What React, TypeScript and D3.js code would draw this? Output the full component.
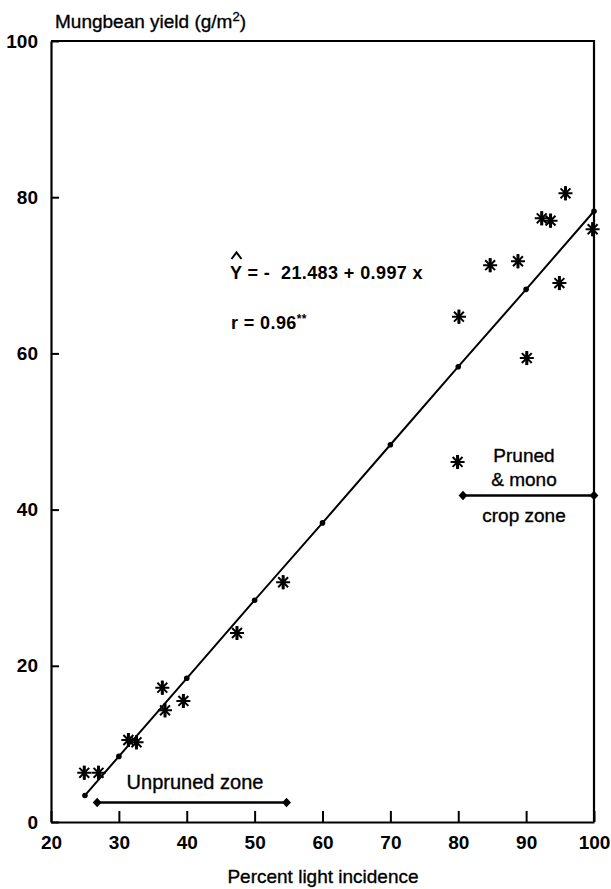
import React, { useEffect, useRef } from 'react';
import { select, scaleLinear, axisBottom, axisLeft, line, path, symbol, symbolDiamond } from 'd3';

// data
const lightIncidence = [24.9, 27.0, 31.4, 32.6, 36.4, 36.8, 39.5, 47.4, 54.2, 79.9, 80.1, 84.7, 88.8, 90.1, 94.9, 92.3, 93.6, 95.8, 99.8];
const mungbeanYield = [6.3, 6.3, 10.5, 10.2, 17.2, 14.3, 15.5, 24.2, 30.7, 46.1, 64.7, 71.3, 71.8, 59.4, 69.0, 77.3, 77.0, 80.5, 75.9];
const fitX = [25, 30, 40, 50, 60, 70, 80, 90, 100];
const fitY = [3.4, 8.4, 18.4, 28.4, 38.3, 48.3, 58.3, 68.2, 78.2];
const xTicks = [20, 30, 40, 50, 60, 70, 80, 90, 100];
const yTicks = [0, 20, 40, 60, 80, 100];
const unprunedZone = [26.8, 54.7];
const prunedZone = [80.7, 100];

const W = 611;
const H = 889;
const FONT = '"Liberation Sans", Arial, Helvetica, sans-serif';

// 8-armed asterisk, vertical arm a bit heavier like the scan
function asterisk(r: number) {
  const p = path();
  for (let k = 0; k < 4; k++) {
    const a = (k * Math.PI) / 4;
    p.moveTo(-r * Math.sin(a), -r * Math.cos(a));
    p.lineTo(r * Math.sin(a), r * Math.cos(a));
  }
  return p.toString();
}

export default function App() {
  const svgRef = useRef<SVGSVGElement>(null);

  useEffect(() => {
    const svg = select(svgRef.current);
    const x = scaleLinear().domain([20, 100]).range([51, 594]);
    const y = scaleLinear().domain([0, 100]).range([822, 41]);

    const styleTicks = (g: any) => {
      g.select('.domain').attr('stroke-width', 2.2);
      g.selectAll('line').attr('stroke-width', 2);
      g.selectAll('text')
        .attr('font-size', 19)
        .attr('font-weight', 'bold')
        .attr('font-family', FONT)
        .attr('fill', '#000');
    };

    const xAxis = axisBottom(x).tickValues(xTicks).tickSizeInner(-11).tickSizeOuter(0).tickPadding(14);
    svg.select<SVGGElement>('.x-axis')
      .attr('transform', `translate(0,${y(0)})`)
      .call(xAxis)
      .call(styleTicks);

    const yAxis = axisLeft(y).tickValues(yTicks).tickSizeInner(-8).tickSizeOuter(0).tickPadding(13);
    svg.select<SVGGElement>('.y-axis')
      .attr('transform', `translate(${x(20)},0)`)
      .call(yAxis)
      .call(styleTicks);

    // frame: top + right
    svg.select('.frame')
      .selectAll('path')
      .data([0])
      .join('path')
      .attr('d', `M${x(20)},${y(100)}H${x(100)}V${y(0)}`)
      .attr('fill', 'none')
      .attr('stroke', '#000')
      .attr('stroke-width', 2.2);

    // regression line with small dots
    const fit = fitX.map((v, i) => [v, fitY[i]] as [number, number]);
    const fitLine = line<[number, number]>().x(d => x(d[0])).y(d => y(d[1]));
    svg.select('.fit')
      .selectAll('path')
      .data([fit])
      .join('path')
      .attr('d', fitLine)
      .attr('fill', 'none')
      .attr('stroke', '#000')
      .attr('stroke-width', 2);
    svg.select('.fit')
      .selectAll('circle')
      .data(fit)
      .join('circle')
      .attr('cx', d => x(d[0]))
      .attr('cy', d => y(d[1]))
      .attr('r', 2.8)
      .attr('fill', '#000');

    // observed points
    const pts = lightIncidence.map((v, i) => [v, mungbeanYield[i]]);
    const pg = svg.select('.points');
    pg.selectAll('path.star')
      .data(pts)
      .join('path')
      .attr('class', 'star')
      .attr('transform', d => `translate(${x(d[0])},${y(d[1])})`)
      .attr('d', asterisk(7))
      .attr('fill', 'none')
      .attr('stroke', '#000')
      .attr('stroke-width', 2);
    pg.selectAll('line.stem')
      .data(pts)
      .join('line')
      .attr('class', 'stem')
      .attr('x1', d => x(d[0]))
      .attr('x2', d => x(d[0]))
      .attr('y1', d => y(d[1]) - 7)
      .attr('y2', d => y(d[1]) + 7)
      .attr('stroke', '#000')
      .attr('stroke-width', 3);

    // zone arrows
    const diamond = symbol(symbolDiamond, 40)();
    const zones = [
      { range: unprunedZone, yv: 2.5 },
      { range: prunedZone, yv: 41.8 },
    ];
    const zg = svg.select('.zones');
    zg.selectAll('line')
      .data(zones)
      .join('line')
      .attr('x1', d => x(d.range[0]))
      .attr('x2', d => x(d.range[1]))
      .attr('y1', d => y(d.yv))
      .attr('y2', d => y(d.yv))
      .attr('stroke', '#000')
      .attr('stroke-width', 2.4);
    zg.selectAll('path')
      .data(zones.flatMap(d => d.range.map(v => [v, d.yv])))
      .join('path')
      .attr('transform', d => `translate(${x(d[0])},${y(d[1])}) scale(1.3,0.8)`)
      .attr('d', diamond)
      .attr('fill', '#000');
  }, []);

  const txt = { fontFamily: FONT, fill: '#000', stroke: '#000', strokeWidth: 0.35 } as const;
  const bold = { fontFamily: FONT, fill: '#000', fontWeight: 'bold' } as const;

  return (
    <div style={{ position: 'absolute', left: 0, top: 0 }}>
      <svg ref={svgRef} width={W} height={H} style={{ display: 'block', background: '#fff' }}>
        <g className="frame" />
        <g className="x-axis" />
        <g className="y-axis" />
        <g className="fit" />
        <g className="points" />
        <g className="zones" />
        <text x={55} y={28} fontSize={19} style={txt}>
          Mungbean yield (g/m<tspan dy={-7} fontSize={13}>2</tspan><tspan dy={7}>)</tspan>
        </text>
        <text x={323} y={883} fontSize={19} textAnchor="middle" style={txt}>
          Percent light incidence
        </text>
        <text x={230} y={279} fontSize={18} letterSpacing={0.4} style={bold} xmlSpace="preserve">
          Y = -  21.483 + 0.997 x
        </text>
        <path d="M231.5,259 L236.5,252.5 L241.5,259" fill="none" stroke="#000" strokeWidth={2} />
        <text x={231} y={329} fontSize={18} letterSpacing={0.4} style={bold}>
          r = 0.96<tspan dy={-6} fontSize={12}>**</tspan>
        </text>
        <text x={195} y={789} fontSize={20} textAnchor="middle" style={txt}>
          Unpruned zone
        </text>
        <text x={524} y={462} fontSize={19} textAnchor="middle" style={txt}>
          Pruned
        </text>
        <text x={524} y={486} fontSize={19} textAnchor="middle" style={txt}>
          &amp; mono
        </text>
        <text x={524} y={522} fontSize={19} textAnchor="middle" style={txt}>
          crop zone
        </text>
      </svg>
    </div>
  );
}
